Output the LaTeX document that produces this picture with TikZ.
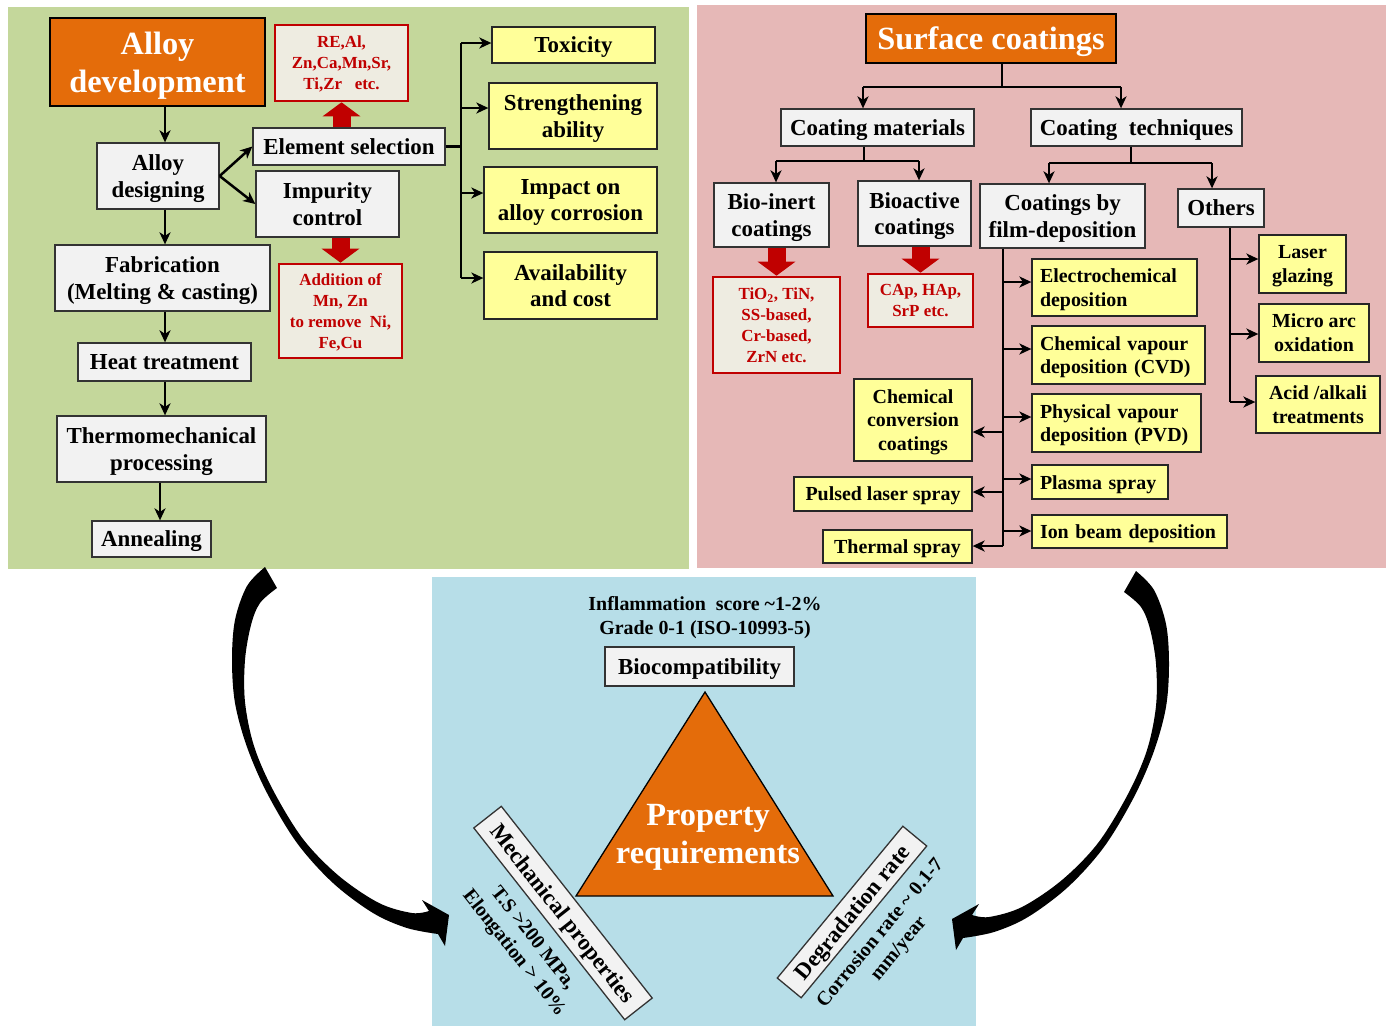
\documentclass[tikz,border=0pt]{standalone}
\usepackage{fontspec}
\setmainfont{Liberation Serif}
\usetikzlibrary{arrows.meta,calc}
\definecolor{greenbg}{RGB}{196,215,155}
\definecolor{pinkbg}{RGB}{230,184,183}
\definecolor{bluebg}{RGB}{183,222,232}
\definecolor{orangec}{RGB}{228,108,10}
\definecolor{grayc}{RGB}{242,242,242}
\definecolor{yellowc}{RGB}{255,255,153}
\definecolor{redfill}{RGB}{238,236,225}
\definecolor{redc}{RGB}{192,0,0}

\newcommand\mybox[7]{%
 \pgfmathsetmacro\myw{#5-#3}\pgfmathsetmacro\myh{#6-#4}%
 \pgfmathsetmacro\mycx{(#3+#5)/2}\pgfmathsetmacro\mycy{(#4+#6)/2}%
 \node[#2, minimum width=\myw bp, minimum height=\myh bp] (#1) at (\mycx,\mycy) {#7};}
\newcommand\myboxl[7]{%
 \pgfmathsetmacro\myw{#5-#3}\pgfmathsetmacro\myh{#6-#4}\pgfmathsetmacro\mytw{#5-#3-16}%
 \pgfmathsetmacro\mycx{(#3+#5)/2}\pgfmathsetmacro\mycy{(#4+#6)/2}%
 \node[#2, minimum width=\myw bp, minimum height=\myh bp, text width=\mytw bp, align=left] (#1) at (\mycx,\mycy) {#7};}

\newcommand\bigarrowshape{%
 \fill[black] plot[smooth, tension=0.55] coordinates {(265,567) (247,586) (235,620) (232,660) (235,703) (247,747) (267,793) (297,843) (333,883) (373,913) (407,928) (438,934)}
  -- (445,946) -- (449,915) -- (422,900)
  -- plot[smooth, tension=0.55] coordinates {(429,911) (412,913) (379,903) (339,876) (303,839) (273,790) (254,746) (245,702) (245,660) (251,625) (260,603) (277,588)} -- cycle;}

\tikzset{
 boxbase/.style={draw, inner sep=0pt, align=center, text depth=0pt, font=\fontsize{23}{27}\selectfont\bfseries},
 gbox/.style={boxbase, fill=grayc, draw=black!80, line width=1.3bp},
 obox/.style={boxbase, fill=orangec, draw=black, line width=2.5bp, text=white, font=\fontsize{32.5}{38}\selectfont\bfseries},
 rbox/.style={boxbase, fill=redfill, draw=redc, line width=2.6bp, text=redc, font=\fontsize{17}{21}\selectfont\bfseries},
 ybox/.style={boxbase, fill=yellowc, draw=black!85, line width=1.3bp},
 ysmall/.style={ybox, font=\fontsize{20}{24}\selectfont\bfseries},
 yone/.style={ysmall, text height=14bp, text depth=0pt},
 ytwo/.style={ysmall, text height=14bp, text depth=24bp},
 lbl/.style={inner sep=0pt, align=center, font=\fontsize{20}{24}\selectfont\bfseries},
 conn/.style={line width=2.5bp, -{Stealth[length=12bp,width=11bp,inset=3.5bp]}},
 plainln/.style={line width=2.5bp},
 redarrow/.style={draw=redc, line width=18bp, -{Triangle[length=14bp,width=37bp]}},
}

\begin{document}
\begin{tikzpicture}[x=1bp, y=-1bp]
\useasboundingbox (0,0) rectangle (1389,1026);
\fill[white] (0,0) rectangle (1389,1026);
% panels
\fill[greenbg] (8,7) rectangle (689,569);
\fill[pinkbg] (697,5) rectangle (1386,568);
\fill[bluebg] (432,577) rectangle (976,1026);

% ---------- left panel ----------
\mybox{adev}{obox}{50}{18}{265}{106}{Alloy\\development}
\mybox{ades}{gbox}{97}{143}{219}{209}{Alloy\\designing}
\mybox{es}{gbox}{253}{128}{445}{165}{Element selection}
\mybox{ic}{gbox}{256}{171}{399}{237}{Impurity\\control}
\mybox{fab}{gbox}{55}{245}{270}{311}{Fabrication\\(Melting \& casting)}
\mybox{ht}{gbox}{78}{343}{251}{381}{Heat treatment}
\mybox{tmp}{gbox}{57}{416}{266}{482}{Thermomechanical\\processing}
\mybox{ann}{gbox}{92}{521}{211}{557}{Annealing}
\mybox{re}{rbox}{275}{25}{408}{101}{RE,Al,\\Zn,Ca,Mn,Sr,\\Ti,Zr\ \ \ etc.}
\mybox{add}{rbox}{279}{264}{402}{358}{Addition of\\Mn, Zn\\to remove\ \ Ni,\\Fe,Cu}
\mybox{tox}{ybox}{492}{27}{655}{63}{Toxicity}
\mybox{stra}{ybox}{489}{83}{657}{149}{Strengthening\\ability}
\mybox{imp}{ybox}{484}{167}{657}{233}{Impact on\\alloy corrosion}
\mybox{avl}{ybox}{484}{252}{657}{319}{Availability\\and cost}

\coordinate (sp) at (165,0);
\coordinate (sp2) at (160,0);
\draw[conn] (adev.south -| sp) -- (ades.north -| sp);
\draw[conn] (ades.south -| sp) -- (fab.north -| sp);
\draw[conn] (fab.south -| sp) -- (ht.north -| sp);
\draw[conn] (ht.south -| sp) -- (tmp.north -| sp);
\draw[conn] (tmp.south -| sp2) -- (ann.north -| sp2);
\draw[conn] (ades.east) -- (es.west);
\draw[conn] (ades.east) -- (ic.west);
\draw[redarrow] (re.south |- es.north) -- (re.south);
\draw[redarrow] (add.north |- ic.south) -- (add.north);

\coordinate (tl1) at (461,43);
\coordinate (tl2) at (461,108);
\coordinate (tl3) at (461,193);
\coordinate (tl4) at (461,278);
\draw[plainln] (es.east) -- (es.east -| tl1);
\draw[plainln] (tl1) -- (tl4);
\draw[conn] (tl1) -- (tl1 -| tox.west);
\draw[conn] (tl2) -- (tl2 -| stra.west);
\draw[conn] (tl3) -- (tl3 -| imp.west);
\draw[conn] (tl4) -- (tl4 -| avl.west);

% ---------- right panel ----------
\mybox{sc}{obox}{866}{14}{1116}{63}{Surface coatings}
\mybox{cm}{gbox}{781}{109}{974}{146}{Coating materials}
\mybox{ct}{gbox}{1031}{109}{1242}{146}{Coating\ \ techniques}
\mybox{bi}{gbox}{714}{183}{829}{247}{Bio-inert\\coatings}
\mybox{ba}{gbox}{858}{181}{971}{246}{Bioactive\\coatings}
\mybox{fd}{gbox}{980}{184}{1145}{248}{Coatings by\\film-deposition}
\mybox{ot}{gbox}{1178}{189}{1264}{227}{Others}
\mybox{tio}{rbox}{713}{277}{840}{373}{TiO\textsubscript{2}, TiN,\\SS-based,\\Cr-based,\\ZrN\ etc.}
\mybox{cap}{rbox}{868}{274}{973}{327}{CAp, HAp,\\SrP etc.}
\myboxl{ecd}{ytwo}{1032}{259}{1197}{316}{Electrochemical\\deposition}
\myboxl{cvd}{ytwo}{1032}{326}{1205}{384}{Chemical vapour\\deposition (CVD)}
\myboxl{pvd}{ytwo}{1032}{394}{1201}{452}{Physical vapour\\deposition (PVD)}
\myboxl{pls}{yone}{1032}{465}{1168}{499}{Plasma spray}
\myboxl{ion}{yone}{1032}{515}{1227}{548}{Ion beam deposition}
\mybox{ccc}{ysmall}{854}{379}{972}{461}{Chemical\\conversion\\coatings}
\mybox{pul}{ysmall}{794}{477}{972}{511}{Pulsed laser spray}
\mybox{ths}{ysmall}{823}{530}{972}{563}{Thermal spray}
\mybox{lg}{ysmall}{1259}{235}{1346}{293}{Laser\\glazing}
\mybox{mao}{ysmall}{1259}{304}{1369}{362}{Micro arc\\oxidation}
\mybox{aat}{ysmall}{1256}{376}{1380}{433}{Acid /alkali\\treatments}

\coordinate (j1) at (1002,87);
\coordinate (j1l) at (863,87);
\coordinate (j1r) at (1121,87);
\draw[plainln] (sc.south -| j1) -- (j1);
\draw[plainln] (j1l) -- (j1r);
\draw[conn] (j1l) -- (j1l |- cm.north);
\draw[conn] (j1r) -- (j1r |- ct.north);

\coordinate (j2) at (864,161);
\coordinate (j2l) at (776,161);
\coordinate (j2r) at (919,161);
\draw[plainln] (cm.south -| j2) -- (j2);
\draw[plainln] (j2l) -- (j2r);
\draw[conn] (j2l) -- (j2l |- bi.north);
\draw[conn] (j2r) -- (j2r |- ba.north);

\coordinate (j3) at (1131,163);
\coordinate (j3l) at (1049,163);
\coordinate (j3r) at (1212,163);
\draw[plainln] (ct.south -| j3) -- (j3);
\draw[plainln] (j3l) -- (j3r);
\draw[conn] (j3l) -- (j3l |- fd.north);
\draw[conn] (j3r) -- (j3r |- ot.north);

\draw[redarrow] (tio.north |- bi.south) -- (tio.north);
\draw[redarrow] (cap.north |- ba.south) -- (cap.north);

\coordinate (r1) at (1003,282);
\coordinate (r2) at (1003,349);
\coordinate (r3) at (1003,417);
\coordinate (r4) at (1003,479);
\coordinate (r5) at (1003,531);
\coordinate (l1) at (1003,432);
\coordinate (l2) at (1003,492);
\coordinate (l3) at (1003,546);
\draw[plainln] (fd.south -| l3) -- (l3);
\draw[conn] (r1) -- (r1 -| ecd.west);
\draw[conn] (r2) -- (r2 -| cvd.west);
\draw[conn] (r3) -- (r3 -| pvd.west);
\draw[conn] (r4) -- (r4 -| pls.west);
\draw[conn] (r5) -- (r5 -| ion.west);
\draw[conn] (l1) -- (l1 -| ccc.east);
\draw[conn] (l2) -- (l2 -| pul.east);
\draw[conn] (l3) -- (l3 -| ths.east);

\coordinate (o1) at (1230,259);
\coordinate (o2) at (1230,334);
\coordinate (o3) at (1230,402);
\draw[plainln] (ot.south -| o3) -- (o3);
\draw[conn] (o1) -- (o1 -| lg.west);
\draw[conn] (o2) -- (o2 -| mao.west);
\draw[conn] (o3) -- (o3 -| aat.west);

% ---------- bottom panel ----------
\node[lbl] (infl) at (705,618) {Inflammation\ \ score \textasciitilde1-2\%\\Grade 0-1 (ISO-10993-5)};
\mybox{bio}{gbox}{605}{647}{794}{686}{Biocompatibility}
\draw[fill=orangec, line width=1.3bp] (705,692) -- (833,896) -- (576,896) -- cycle;
\node[inner sep=0pt, align=center, text depth=0pt, text=white, font=\fontsize{32.5}{38}\selectfont\bfseries] (prop) at (708,834) {Property\\requirements};
\node[gbox, rotate=-51.8, minimum width=244bp, minimum height=35bp] (mech) at (563,913) {Mechanical properties};
\node[lbl, rotate=-51.8] (mechv) at (523,946) {T.S \textgreater200 MPa,\\Elongation \textgreater{} 10\%};
\node[gbox, rotate=50.4, minimum width=197bp, minimum height=31bp] (deg) at (852,912) {Degradation rate};
\node[lbl, rotate=50.4] (degv) at (890,941) {Corrosion rate \textasciitilde{} 0.1-7\\mm/year};

% big curved arrows
\bigarrowshape
\begin{scope}[shift={(1401,4)}, xscale=-1]
\bigarrowshape
\end{scope}
\end{tikzpicture}
\end{document}
